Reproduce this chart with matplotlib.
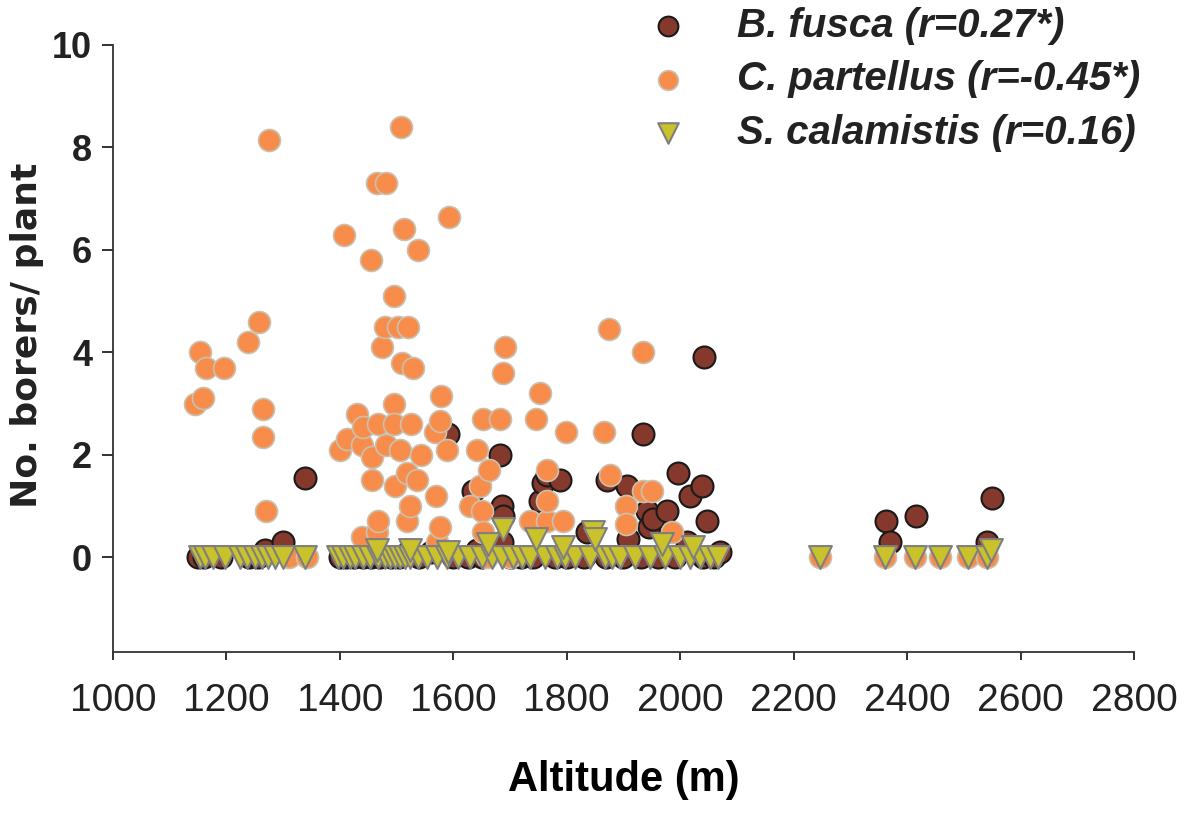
import matplotlib
matplotlib.use("Agg")
import matplotlib.pyplot as plt

plt.rcParams['font.family'] = ['Liberation Sans', 'DejaVu Sans']

# --- B. fusca (altitude m, borers/plant)
fusca_x = [1150, 1160, 1190, 1240, 1255, 1268, 1300, 1339, 1400, 1410, 1425,
           1440, 1447, 1455, 1470, 1490, 1505, 1520, 1540, 1560, 1591, 1600,
           1625, 1635, 1642, 1650, 1682, 1686, 1686, 1688, 1700, 1720, 1740,
           1753, 1758, 1765, 1780, 1788, 1800, 1830, 1836, 1870, 1871, 1900,
           1906, 1908, 1930, 1934, 1941, 1945, 1952, 1960, 1977, 1990, 1996,
           2012, 2017, 2038, 2040, 2042, 2047, 2060, 2070, 2363, 2370, 2416,
           2541, 2550]
fusca_y = [0, 0, 0, 0, 0, 0.15, 0.3, 1.55, 0, 0, 0,
           0, 0.1, 0, 0, 0, 0, 0.1, 0, 0.1, 2.4, 0,
           0, 1.3, 0.15, 0, 2.0, 1.0, 0.3, 0.8, 0, 0, 0,
           1.1, 1.45, 1.6, 0, 1.5, 0, 0, 0.5, 0, 1.5, 0,
           1.4, 0.35, 0, 2.4, 0.9, 0.6, 0.75, 0, 0.9, 0, 1.65,
           0.3, 1.2, 1.4, 0, 3.9, 0.7, 0, 0.1, 0.7, 0.3, 0.8,
           0.3, 1.15]

# --- C. partellus
part_x = [1145, 1153, 1159, 1164, 1196, 1238, 1257, 1264, 1264, 1270, 1275,
          1310, 1342, 1400, 1407, 1413, 1430, 1439, 1439, 1441, 1455, 1456,
          1456, 1465, 1465, 1467, 1467, 1474, 1480, 1481, 1481, 1495, 1495,
          1495, 1497, 1502, 1506, 1508, 1509, 1513, 1518, 1518, 1520, 1524,
          1525, 1529, 1536, 1538, 1543, 1568, 1569, 1571, 1577, 1577, 1578,
          1589, 1592, 1629, 1642, 1647, 1650, 1652, 1652, 1660, 1663, 1682,
          1687, 1691, 1700, 1735, 1746, 1753, 1765, 1765, 1765, 1794, 1799,
          1866, 1875, 1877, 1904, 1904, 1934, 1934, 1950, 1986, 2246, 2361,
          2414, 2458, 2507, 2541]
part_y = [3.0, 4.0, 3.1, 3.7, 3.7, 4.2, 4.6, 2.9, 2.35, 0.9, 8.15,
          0, 0, 2.1, 6.3, 2.3, 2.8, 2.2, 0.4, 2.55, 5.8, 1.95,
          1.5, 7.3, 0.5, 2.6, 0.7, 4.1, 4.5, 7.3, 2.2, 5.1, 3.0,
          2.6, 1.4, 4.5, 2.1, 8.4, 3.8, 6.4, 1.65, 0.7, 4.5, 1.0,
          2.6, 3.7, 1.5, 6.0, 2.0, 2.45, 1.2, 0.3, 2.65, 0.6, 3.15,
          2.1, 6.65, 1.0, 2.1, 1.4, 0.9, 2.7, 0.5, 0, 1.7, 2.7,
          3.6, 4.1, 0, 0.7, 2.7, 3.2, 0.7, 1.1, 1.7, 0.7, 2.45,
          2.45, 4.45, 1.6, 1.0, 0.65, 4.0, 1.3, 1.3, 0.5, 0, 0,
          0, 0, 0, 0]

# --- S. calamistis
cal_x = [1153, 1162, 1176, 1197, 1224, 1236, 1250, 1263, 1273, 1286, 1300,
         1338, 1397, 1405, 1418, 1427, 1441, 1453, 1467, 1480, 1488, 1497,
         1506, 1515, 1524, 1538, 1554, 1571, 1589, 1608, 1629, 1651, 1668,
         1686, 1705, 1721, 1735, 1762, 1783, 1797, 1815, 1841, 1867, 1880,
         1894, 1920, 1947, 1973, 2000, 2017, 2035, 2053, 2067, 2246, 2361,
         2414, 2458, 2507, 2541,
         1465, 1524, 1591, 1661, 1687, 1745, 1794, 1846, 1850, 1968, 2023,
         2548]
cal_y = [0] * 59 + [0.15, 0.15, 0.1, 0.25, 0.55, 0.35, 0.2, 0.5, 0.35, 0.25,
                    0.2, 0.15]

labels = ['B. fusca (r=0.27*)', 'C. partellus (r=-0.45*)',
          'S. calamistis (r=0.16)']

fig = plt.figure(figsize=(11.9, 8.25), dpi=100)
ax = fig.add_axes([113 / 1190, 1 - 652 / 825, 1021 / 1190, 607 / 825])

ax.scatter(fusca_x, fusca_y, s=250, c='#84392c', edgecolors='#1a1a1a',
           linewidths=1.5, label=labels[0], zorder=3)
ax.scatter(part_x, part_y, s=250, c='#f88d4b', edgecolors='#c9c1b0',
           linewidths=1.2, label=labels[1], zorder=4)
ax.scatter(cal_x, cal_y, s=270, marker='v', c='#c9c22b',
           edgecolors='#7f7f7f', linewidths=1.5, label=labels[2], zorder=5)

ax.set_xlim(1000, 2800)
ax.set_ylim(-1.85, 10)
ax.set_xticks(range(1000, 2801, 200))
ax.set_yticks(range(0, 11, 2))
for s in ['top', 'right']:
    ax.spines[s].set_visible(False)
for s in ['left', 'bottom']:
    ax.spines[s].set_color('#333333')
    ax.spines[s].set_linewidth(1.3)

ax.tick_params(axis='x', length=6, width=1.3, colors='#222222',
               labelsize=28, pad=16)
ax.tick_params(axis='y', length=8, width=1.3, colors='#222222',
               labelsize=26, pad=7)
for t in ax.get_yticklabels():
    t.set_fontweight('bold')

ax.set_xlabel('Altitude (m)', fontsize=30, fontweight='bold', labelpad=30)
fig.text(27 / 1190, 1 - 335 / 825, 'No. borers/ plant', rotation=90,
         ha='center', va='center', fontsize=26, fontweight='bold',
         family='DejaVu Sans', color='#222222')

leg = fig.legend(loc='upper left', bbox_to_anchor=(644 / 1190, 1 - 7 / 825),
                 frameon=False, markerscale=0.9, borderpad=0,
                 borderaxespad=0, handletextpad=1.1, labelspacing=0.38,
                 handlelength=1.2,
                 prop={'weight': 'bold', 'style': 'italic', 'size': 29})
for t in leg.get_texts():
    t.set_color('#222222')

fig.savefig('out.png', dpi=100)
